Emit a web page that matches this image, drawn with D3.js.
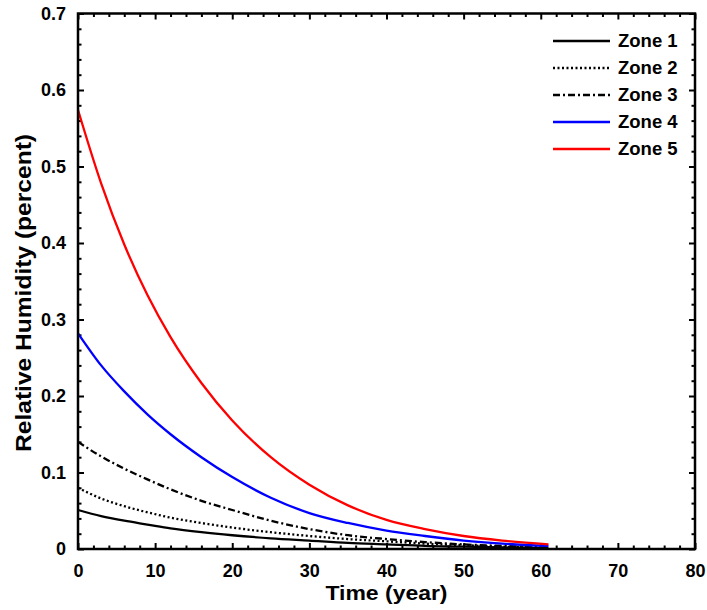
<!DOCTYPE html>
<html><head><meta charset="utf-8">
<script src="https://cdn.jsdelivr.net/npm/d3@7"></script>
<style>
html,body{margin:0;padding:0;background:#fff;}
text{font-family:"Liberation Sans",Arial,Helvetica,sans-serif;font-weight:bold;fill:#000;}
</style></head>
<body><svg id="c" width="707" height="610"></svg>
<script>
const years = [0, 3, 6, 9, 12, 16, 20, 25, 30, 35, 40, 45, 50, 55, 61];
const zone1 = [0.051, 0.043, 0.037, 0.032, 0.027, 0.022, 0.018, 0.014, 0.011, 0.008, 0.006, 0.004, 0.003, 0.002, 0.001];
const zone2 = [0.080, 0.066, 0.056, 0.048, 0.041, 0.034, 0.028, 0.022, 0.017, 0.013, 0.010, 0.007, 0.005, 0.003, 0.002];
const zone3 = [0.140, 0.121, 0.105, 0.091, 0.078, 0.063, 0.051, 0.037, 0.026, 0.018, 0.013, 0.009, 0.006, 0.004, 0.002];
const zone4 = [0.282, 0.240, 0.206, 0.176, 0.150, 0.120, 0.094, 0.067, 0.047, 0.034, 0.024, 0.017, 0.011, 0.007, 0.004];
const zone5 = [0.574, 0.478, 0.398, 0.332, 0.277, 0.217, 0.168, 0.120, 0.084, 0.057, 0.038, 0.026, 0.017, 0.011, 0.006];
const seriesNames = ["Zone 1", "Zone 2", "Zone 3", "Zone 4", "Zone 5"];
const xTicks = [0, 10, 20, 30, 40, 50, 60, 70, 80];
const yTicks = [0, 0.1, 0.2, 0.3, 0.4, 0.5, 0.6, 0.7];
const yTickLabels = ["0", "0.1", "0.2", "0.3", "0.4", "0.5", "0.6", "0.7"];

const series = [
  {name: seriesNames[0], values: zone1, color: "#000", dash: null},
  {name: seriesNames[1], values: zone2, color: "#000", dash: "2,2.5"},
  {name: seriesNames[2], values: zone3, color: "#000", dash: "7,3,2,3"},
  {name: seriesNames[3], values: zone4, color: "#0000ff", dash: null},
  {name: seriesNames[4], values: zone5, color: "#ff0000", dash: null}
];

const L = 78, R = 695, T = 13.5, B = 549;
const svg = d3.select("#c");
const x = d3.scaleLinear().domain([0, 80]).range([L, R]);
const y = d3.scaleLinear().domain([0, 0.7]).range([B, T]);

const xMinor = d3.range(0, 80.001, 2).filter(v => v % 10 !== 0);
const yMinor = d3.range(0, 35.001, 1).map(v => v * 0.02).filter((v, i) => i % 5 !== 0);

const g = svg.append("g");
function axisGroup(tr, ax) {
  g.append("g").attr("transform", tr).call(ax).call(a => a.select(".domain").remove());
}
axisGroup(`translate(0,${B})`, d3.axisBottom(x).tickValues(xTicks).tickSize(-6).tickPadding(15).tickFormat(d3.format("d")));
axisGroup(`translate(0,${B})`, d3.axisBottom(x).tickValues(xMinor).tickSize(-3.5).tickFormat(""));
axisGroup(`translate(0,${T})`, d3.axisTop(x).tickValues(xTicks).tickSize(-6).tickFormat(""));
axisGroup(`translate(0,${T})`, d3.axisTop(x).tickValues(xMinor).tickSize(-3.5).tickFormat(""));
axisGroup(`translate(${L},0)`, d3.axisLeft(y).tickValues(yTicks).tickSize(-6).tickPadding(12).tickFormat((d, i) => yTickLabels[i]));
axisGroup(`translate(${L},0)`, d3.axisLeft(y).tickValues(yMinor).tickSize(-3.5).tickFormat(""));
axisGroup(`translate(${R},0)`, d3.axisRight(y).tickValues(yTicks).tickSize(-6).tickFormat(""));
axisGroup(`translate(${R},0)`, d3.axisRight(y).tickValues(yMinor).tickSize(-3.5).tickFormat(""));

g.selectAll(".tick line").attr("stroke", "#000").attr("stroke-width", 2);
g.selectAll(".tick text").style("font-size", "18px").style("font-family", "'Liberation Sans',Arial,sans-serif").style("font-weight", "bold").attr("fill", "#000");

// lines
const line = d3.line().x((d, i) => x(years[i])).y(d => y(d)).curve(d3.curveMonotoneX);
svg.append("g").selectAll("path").data(series).join("path")
  .attr("d", d => line(d.values))
  .attr("fill", "none")
  .attr("stroke", d => d.color)
  .attr("stroke-width", 2.3)
  .attr("stroke-dasharray", d => d.dash);

// frame
svg.append("rect").attr("x", L).attr("y", T).attr("width", R - L).attr("height", B - T)
  .attr("fill", "none").attr("stroke", "#000").attr("stroke-width", 2.5);

// legend
const lg = svg.append("g");
const ly = [41, 68, 95, 122, 149];
series.forEach((s, i) => {
  lg.append("line").attr("x1", 553).attr("x2", 610).attr("y1", ly[i]).attr("y2", ly[i])
    .attr("stroke", s.color).attr("stroke-width", 2.5).attr("stroke-dasharray", s.dash);
  lg.append("text").attr("x", 618).attr("y", ly[i]).attr("dy", "0.35em")
    .style("font-size", "18.5px").text(s.name);
});

// axis titles
svg.append("text").attr("x", (L + R) / 2).attr("y", 600).attr("text-anchor", "middle")
  .style("font-size", "21px").attr("textLength", 122).attr("lengthAdjust", "spacingAndGlyphs").text("Time (year)");
svg.append("text").attr("transform", `translate(31,293) rotate(-90)`).attr("text-anchor", "middle")
  .style("font-size", "22px").attr("textLength", 318).attr("lengthAdjust", "spacingAndGlyphs").text("Relative Humidity (percent)");
</script></body></html>
